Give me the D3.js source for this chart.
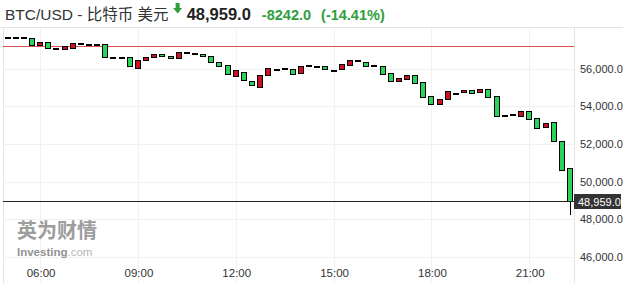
<!DOCTYPE html>
<html>
<head>
<meta charset="utf-8">
<script src="https://cdn.jsdelivr.net/npm/d3@7"></script>
<style>
  body { margin: 0; background: #fff; }
  text { font-family: "Liberation Sans", Arial, "Noto Sans CJK SC", sans-serif; }
</style>
</head>
<body>
<div id="chart"></div>
<script>
// 15 minute candles, BTC/USD
const startTime = "2021-05-19T05:00:00";
const opens = [57655, 57655, 57655, 57602, 57231, 57390, 57075, 57019, 57072, 57337,
  57316, 57300, 57300, 56594, 56594, 56594, 56042, 56435, 56594, 56753,
  56663, 56541, 56859, 56838, 56769, 56663, 56329, 56186, 55602, 55830,
  55321, 55034, 55618, 55973, 56027, 55958, 55777, 56202, 56149, 56133,
  55920, 55958, 56186, 56435, 56329, 56170, 56133, 55745, 55300, 55459,
  55655, 55268, 54541, 54101, 54366, 54716, 54737, 54843, 54716, 54897,
  54525, 53533, 53570, 53470, 53719, 53358, 52897, 53162, 52138, 50706];
const closes = [57655, 57655, 57655, 57231, 57390, 57072, 57045, 57178, 57337, 57337,
  57316, 57300, 56594, 56594, 56594, 56133, 56451, 56594, 56769, 56647,
  56541, 56859, 56859, 56838, 56663, 56329, 56133, 55692, 55905, 55427,
  55109, 55655, 56011, 55973, 56027, 55671, 56149, 56202, 56149, 55973,
  55920, 56223, 56435, 56435, 56095, 56170, 55735, 55310, 55480, 55655,
  55247, 54472, 54101, 54382, 54790, 54716, 54843, 54684, 54897, 54472,
  53470, 53533, 53570, 53730, 53305, 52828, 53109, 52138, 50616, 48959];
const wickLows = { 69: 48228 };

const prevClose = 57201;
const lastPrice = 48959;
const change = -8242.0;
const changePct = -14.41;

const yTicks = [46000, 48000, 50000, 52000, 54000, 56000];
const xTickLabels = ["06:00", "09:00", "12:00", "15:00", "18:00", "21:00"];

const W = 623, H = 283;
const plot = {left: 3, right: 574, top: 27, bottom: 262};
const upColor = "#cc1022", downColor = "#2bd35c", textGreen = "#2f9e3c";

const parse = d3.timeParse("%Y-%m-%dT%H:%M:%S");
const t0 = parse(startTime);
const data = opens.map((o, i) => ({
  t: d3.timeMinute.offset(t0, i * 15),
  open: o,
  close: closes[i],
  low: wickLows[i]
}));

const svg = d3.select("#chart").append("svg")
  .attr("width", W).attr("height", H);

const x = d3.scaleTime()
  .domain([data[0].t, data[data.length - 1].t])
  .range([7.5, 570]);
const y = d3.scaleLinear()
  .domain([46000, 56000])
  .range([257, 68.5]);

// grid
const dayStr = startTime.slice(0, 11);
const xTicks = xTickLabels.map(s => parse(dayStr + s + ":00"));
svg.append("g").selectAll("line").data(xTicks).join("line")
  .attr("x1", d => Math.round(x(d)) + 0.5).attr("x2", d => Math.round(x(d)) + 0.5)
  .attr("y1", plot.top).attr("y2", H)
  .attr("stroke", "#f1f1f1");
svg.append("g").selectAll("line").data(yTicks).join("line")
  .attr("x1", plot.left).attr("x2", plot.right)
  .attr("y1", d => Math.round(y(d)) + 0.5).attr("y2", d => Math.round(y(d)) + 0.5)
  .attr("stroke", "#f1f1f1");

// frame
svg.append("line").attr("x1", 0).attr("x2", W).attr("y1", plot.top + 0.5).attr("y2", plot.top + 0.5)
  .attr("stroke", "#e4e4e4");
svg.append("line").attr("x1", plot.left + 0.5).attr("x2", plot.left + 0.5).attr("y1", plot.top).attr("y2", H)
  .attr("stroke", "#e4e4e4");
svg.append("line").attr("x1", plot.right + 0.5).attr("x2", plot.right + 0.5).attr("y1", plot.top).attr("y2", H)
  .attr("stroke", "#e4e4e4");

// watermark
const wm = svg.append("g").attr("opacity", 0.8);
wm.append("text").attr("x", 17).attr("y", 238)
  .style("font-family", "'Noto Sans CJK SC', sans-serif")
  .style("font-size", "20px").style("font-weight", "bold")
  .attr("fill", "#858585").text("英为财情");
const wmt = wm.append("text").attr("x", 17).attr("y", 256).style("font-size", "11.5px");
wmt.append("tspan").style("font-weight", "bold").attr("fill", "#777").text("Investing");
wmt.append("tspan").attr("fill", "#a5a5a5").text(".com");

// previous close line
svg.append("line")
  .attr("x1", plot.left).attr("x2", plot.right)
  .attr("y1", Math.round(y(prevClose)) + 0.5).attr("y2", Math.round(y(prevClose)) + 0.5)
  .attr("stroke", "#d9534f");

// candles
const candles = svg.append("g");
candles.selectAll("line").data(data.filter(d => d.low !== undefined)).join("line")
  .attr("x1", d => Math.round(x(d.t)) + 0.5).attr("x2", d => Math.round(x(d.t)) + 0.5)
  .attr("y1", d => y(Math.min(d.open, d.close))).attr("y2", d => y(d.low))
  .attr("stroke", "#000");
candles.selectAll("rect").data(data).join("rect")
  .attr("x", d => Math.round(x(d.t)) - 2.5)
  .attr("width", 5)
  .attr("y", d => Math.round(y(Math.max(d.open, d.close))) + 0.5)
  .attr("height", d => Math.max(1, Math.round(y(Math.min(d.open, d.close)) - y(Math.max(d.open, d.close)))))
  .attr("fill", d => d.close > d.open ? upColor : d.close < d.open ? downColor : "#000")
  .attr("stroke", "#000")
  .attr("stroke-width", 1);

// last price line
const yl = Math.round(y(lastPrice)) + 0.5;
svg.append("line").attr("x1", plot.left).attr("x2", plot.right + 1)
  .attr("y1", yl).attr("y2", yl).attr("stroke", "#222");

// y axis labels
const fmt = d3.format(",.1f");
svg.append("g").selectAll("text").data(yTicks).join("text")
  .attr("x", 580).attr("y", d => y(d) + 4)
  .style("font-size", "11px").attr("fill", "#333")
  .text(d => fmt(d));

svg.append("rect").attr("x", 574).attr("y", yl - 7.5).attr("width", 47).attr("height", 15)
  .attr("fill", "#333");
svg.append("text").attr("x", 578).attr("y", yl + 4)
  .style("font-size", "11px").attr("fill", "#fff")
  .text(fmt(lastPrice));

// x axis labels
svg.append("g").selectAll("text").data(xTicks).join("text")
  .attr("x", d => x(d) + 1).attr("y", 277)
  .attr("text-anchor", "middle")
  .style("font-size", "11.5px").attr("fill", "#333")
  .text((d, i) => xTickLabels[i]);

// header
let hx = 5;
const title = svg.append("text").attr("x", hx).attr("y", 20)
  .style("font-size", "15.5px").attr("fill", "#333")
  .text("BTC/USD - 比特币 美元");
hx += title.node().getComputedTextLength() + 6;
svg.append("path")
  .attr("d", `M${hx + 1},3 h4 v5 h2.5 l-4.5,5.5 l-4.5,-5.5 h2.5 z`)
  .attr("fill", textGreen);
hx += 12;
const price = svg.append("text").attr("x", hx).attr("y", 20)
  .style("font-size", "16.5px").style("font-weight", "bold").attr("fill", "#222")
  .text(fmt(lastPrice));
hx += price.node().getComputedTextLength() + 11;
const ch = svg.append("text").attr("x", hx).attr("y", 20)
  .style("font-size", "14.5px").style("font-weight", "bold").attr("fill", textGreen)
  .text(change.toFixed(1));
hx += ch.node().getComputedTextLength() + 10;
svg.append("text").attr("x", hx).attr("y", 20)
  .style("font-size", "14.5px").style("font-weight", "bold").attr("fill", textGreen)
  .text(`(${changePct.toFixed(2)}%)`);
</script>
</body>
</html>
